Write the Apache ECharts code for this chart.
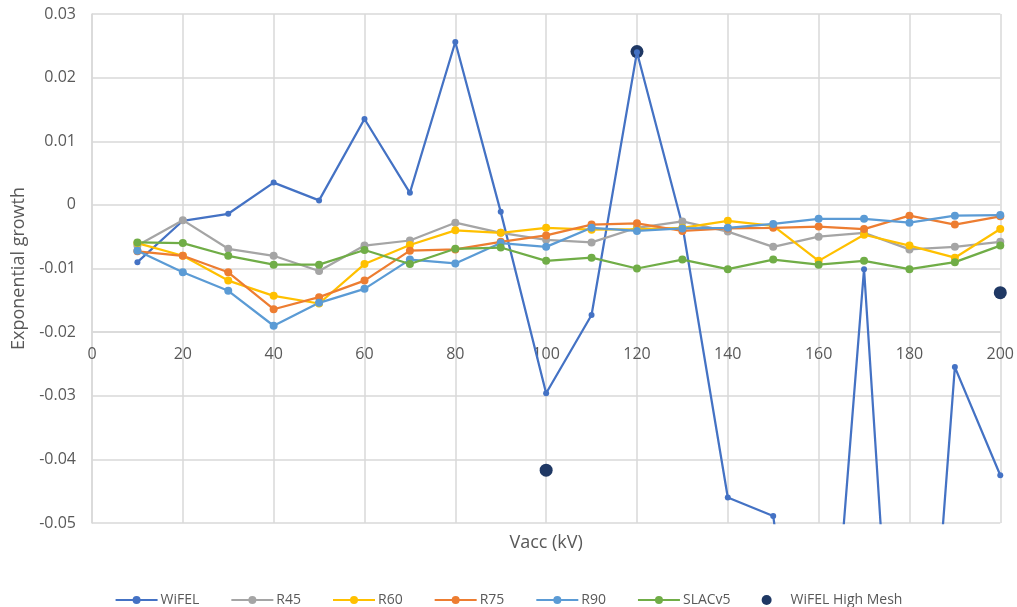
<!DOCTYPE html>
<html>
<head>
<meta charset="utf-8">
<script src="https://cdn.jsdelivr.net/npm/echarts@6/dist/echarts.min.js"></script>
<style>html,body{margin:0;padding:0;background:#fff}#c{width:1017px;height:607px}</style>
</head>
<body>
<div id="c"></div>
<script>
const vacc = [10,20,30,40,50,60,70,80,90,100,110,120,130,140,150,160,170,180,190,200];
const wifel = [-0.0090,-0.0025,-0.0014,0.0035,0.0007,0.0135,0.0019,0.0256,-0.0011,-0.0296,-0.0173,0.0240,-0.0032,-0.0460,-0.0489,-0.1000,-0.0101,-0.1200,-0.0255,-0.0425];
const r45 = [-0.0064,-0.0024,-0.0069,-0.0080,-0.0104,-0.0064,-0.0056,-0.0028,-0.0044,-0.0055,-0.0059,-0.0036,-0.0026,-0.0042,-0.0066,-0.0050,-0.0044,-0.0070,-0.0066,-0.0058];
const r60 = [-0.0060,-0.0080,-0.0119,-0.0143,-0.0155,-0.0093,-0.0063,-0.0040,-0.0044,-0.0036,-0.0039,-0.0038,-0.0036,-0.0025,-0.0033,-0.0088,-0.0047,-0.0064,-0.0083,-0.0038];
const r75 = [-0.0073,-0.0080,-0.0106,-0.0164,-0.0145,-0.0119,-0.0072,-0.0070,-0.0058,-0.0048,-0.0031,-0.0029,-0.0041,-0.0037,-0.0036,-0.0034,-0.0038,-0.0017,-0.0031,-0.0018];
const r90 = [-0.0072,-0.0106,-0.0135,-0.0190,-0.0154,-0.0132,-0.0086,-0.0092,-0.0060,-0.0066,-0.0036,-0.0041,-0.0037,-0.0036,-0.0030,-0.0022,-0.0022,-0.0028,-0.0017,-0.0016];
const slac = [-0.0059,-0.0060,-0.0080,-0.0094,-0.0094,-0.0071,-0.0093,-0.0069,-0.0067,-0.0088,-0.0083,-0.0100,-0.0086,-0.0101,-0.0086,-0.0094,-0.0088,-0.0101,-0.0090,-0.0064];
const meshX = [100,120,200];
const meshY = [-0.0417,0.0241,-0.0138];

const pair = (xs, ys) => xs.map((x, i) => [x, ys[i]]);
const font = '"Open Sans", "Noto Sans", sans-serif';
const txt = '#595959';
const gridC = '#D9D9D9';

function lineSeries(name, ys, color, size) {
  return {
    name, type: 'line', data: pair(vacc, ys), color,
    symbol: 'circle', symbolSize: size, clip: true,
    lineStyle: { width: 2.25, color }, itemStyle: { color },
    emphasis: { disabled: true }, animation: false
  };
}

const chart = echarts.init(document.getElementById('c'), null, { renderer: 'canvas' });
chart.setOption({
  backgroundColor: '#fff',
  textStyle: { fontFamily: font },
  animation: false,
  grid: { left: 92, right: 14, top: 14, bottom: 84, containLabel: false },
  legend: {
    left: 'center', top: 588, itemWidth: 42, itemHeight: 10, itemGap: 31,
    textStyle: { color: txt, fontSize: 14, fontFamily: font, padding: [0, 0, 0, -2] },
    data: ['WiFEL','R45','R60','R75','R90','SLACv5',{ name: 'WiFEL High Mesh', icon: 'circle' }]
  },
  xAxis: [{
    type: 'value', min: 0, max: 200, interval: 20,
    name: 'Vacc (kV)', nameLocation: 'middle', nameGap: 11,
    nameTextStyle: { color: txt, fontSize: 18, fontFamily: font, verticalAlign: 'top' },
    axisLine: { show: false }, axisTick: { show: false }, axisLabel: { show: false },
    splitLine: { show: true, lineStyle: { color: gridC, width: 1.5 } }
  }, {
    type: 'value', min: 0, max: 200, interval: 20, position: 'bottom', offset: -191,
    axisLine: { show: true, onZero: false, lineStyle: { color: gridC, width: 1.5 } },
    axisTick: { show: false },
    axisLabel: { show: true, color: txt, fontSize: 16, margin: 14, fontFamily: font },
    splitLine: { show: false }
  }],
  yAxis: {
    type: 'value', min: -0.05, max: 0.03, interval: 0.01,
    name: 'Exponential growth', nameLocation: 'middle', nameGap: 64,
    nameTextStyle: { color: txt, fontSize: 18, fontFamily: font },
    axisLine: { show: true, lineStyle: { color: gridC, width: 1.5 } },
    axisTick: { show: false },
    axisLabel: { color: txt, fontSize: 16, margin: 16, fontFamily: font,
      formatter: v => { const r = Math.round(v * 100) / 100; return r === 0 ? '0' : String(r); } },
    splitLine: { show: true, lineStyle: { color: gridC, width: 1.5 } }
  },
  series: [
    lineSeries('WiFEL', wifel, '#4472C4', 6),
    lineSeries('R45', r45, '#A5A5A5', 8),
    lineSeries('R60', r60, '#FFC000', 8),
    lineSeries('R75', r75, '#ED7D31', 8),
    lineSeries('R90', r90, '#5B9BD5', 8),
    lineSeries('SLACv5', slac, '#70AD47', 8),
    { name: 'WiFEL High Mesh', type: 'scatter', data: pair(meshX, meshY), color: '#1F3864',
      symbol: 'circle', symbolSize: 13, itemStyle: { color: '#1F3864', opacity: 1 }, emphasis: { disabled: true } }
  ]
});
</script>
</body>
</html>
